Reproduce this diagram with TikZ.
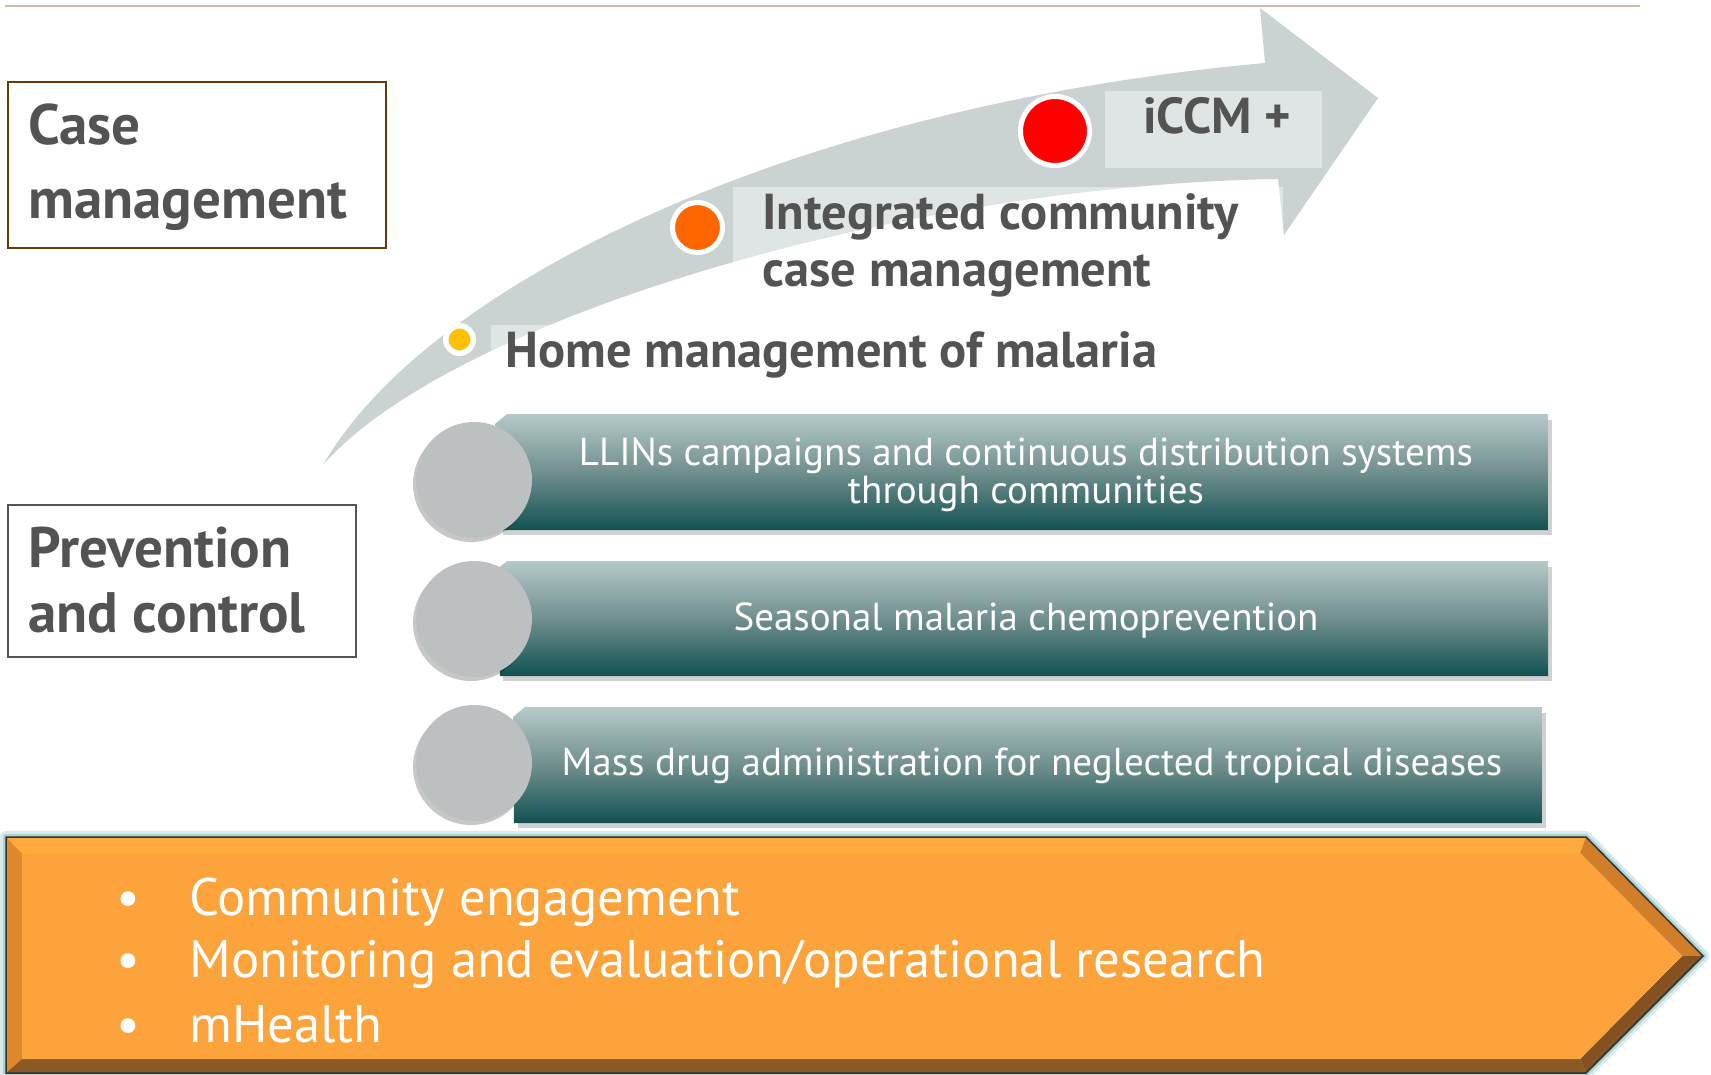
\documentclass[tikz,border=0pt]{standalone}
\usepackage{fontspec}
\setmainfont{PT Sans}

\definecolor{ruleTan}{RGB}{201,189,168}
\definecolor{caseBrown}{RGB}{104,60,10}
\definecolor{prevGrey}{RGB}{85,85,85}
\definecolor{labelGrey}{RGB}{83,83,83}
\definecolor{shaftGrey}{RGB}{203,210,210}
\definecolor{dotYellow}{RGB}{255,192,0}
\definecolor{dotOrange}{RGB}{255,102,0}
\definecolor{dotRed}{RGB}{255,0,0}
\definecolor{barTop}{RGB}{181,202,200}
\definecolor{barMid}{RGB}{112,143,142}
\definecolor{barBottom}{RGB}{17,82,82}
\definecolor{discGrey}{RGB}{188,192,192}
\definecolor{bandFace}{RGB}{253,163,59}
\definecolor{bandTop}{RGB}{254,170,60}
\definecolor{bandLeft}{RGB}{224,137,44}
\definecolor{bandUpper}{RGB}{208,126,42}
\definecolor{bandLower}{RGB}{131,82,32}
\definecolor{bandBottom}{RGB}{139,89,36}
\definecolor{bandGlow}{RGB}{128,186,186}

\tikzset{every picture/.style={line width=0.75pt}}

\begin{document}
\begin{tikzpicture}[x=1pt,y=1pt,yscale=-1,xscale=1,
  heading/.style={font=\fontsize{57}{74}\selectfont\bfseries, text=labelGrey, anchor=base west, align=left, inner sep=0pt},
  stage/.style={font=\fontsize{50.5}{57}\selectfont\bfseries, text=labelGrey, anchor=base west, align=left, inner sep=0pt},
  bartext/.style={font=\fontsize{39}{38}\selectfont, text=white, anchor=base, align=center, inner sep=0pt},
  bandtext/.style={font=\fontsize{52.7}{63}\selectfont, text=white, anchor=base west, inner sep=0pt},
  bandmark/.style={font=\fontsize{52.7}{63}\selectfont, text=white, anchor=base, inner sep=0pt},
  dot/.style={circle, draw=white, inner sep=0pt},
  disc/.style={circle, fill=discGrey, minimum size=116, inner sep=0pt},
  barfill/.style={top color=barTop, bottom color=barBottom, middle color=barMid},
  veil/.style={fill=white, fill opacity=0.4}]
\useasboundingbox (0,0) rectangle (1711,1074);

%Straight Lines
\draw [color=ruleTan, line width=2.5]  (5,6) -- (1640,6) ;

%Shape: Rectangle
\draw [color=caseBrown, line width=1.5]  (8,82) -- (386,82) -- (386,248) -- (8,248) -- cycle ;
%Shape: Rectangle
\draw [color=prevGrey, line width=1.5]  (8,505) -- (356,505) -- (356,657) -- (8,657) -- cycle ;

% Text Node (baseline of the last line)
\draw (28,218) node (caseHead) [heading]  {Case\\management};
% Text Node
\draw (28,632) node (prevHead) [heading, font=\fontsize{57}{65}\selectfont\bfseries]  {Prevention\\and control};

%Shape: Curved Arrow
\fill [shaftGrey]  (323,465) .. controls (430,280) and (800,105) .. (1265,63) -- (1260,8) -- (1378,98) -- (1284,235) -- (1278,179) .. controls (900,185) and (450,320) .. (323,465) -- cycle ;

%Shape: Rectangle
\fill [veil]  (491,325) -- (1160,325) -- (1160,392) -- (491,392) -- cycle ;
%Shape: Rectangle
\fill [veil]  (733,187) -- (1283,187) -- (1283,300) -- (733,300) -- cycle ;
%Shape: Rectangle
\fill [veil]  (1105,91) -- (1322,91) -- (1322,168) -- (1105,168) -- cycle ;

%Shape: Circle
\draw (459.5,339.5) node (dotHome) [dot, fill=dotYellow, minimum size=27.5, line width=5.5] {};
%Shape: Circle
\draw (697.5,227.5) node (dotIccm) [dot, fill=dotOrange, minimum size=50, line width=5] {};
%Shape: Circle
\draw (1055,131) node (dotPlus) [dot, fill=dotRed, minimum size=69, line width=5] {};

% Text Node
\draw (505,367) node (homeLbl) [stage]  {Home management of malaria};
% Text Node
\draw (762,286) node (iccmLbl) [stage]  {Integrated community\\case management};
% Text Node
\draw (1143,133) node (plusLbl) [stage]  {iCCM +};

%Shape: Bars with shadow
\fill [black, opacity=0.18]  (503,420) -- (1552,420) -- (1552,535) -- (503,535) -- cycle ;
\fill [black, opacity=0.18]  (503,567) -- (1552,567) -- (1552,681) -- (503,681) -- cycle ;
\fill [black, opacity=0.18]  (518,713) -- (1546,713) -- (1546,828) -- (518,828) -- cycle ;
\shade [barfill]  (495,424) -- (507,414) -- (1548,414) -- (1548,530) -- (500,530) -- cycle ;
\shade [barfill]  (495,571) -- (507,561) -- (1548,561) -- (1548,676) -- (500,676) -- cycle ;
\shade [barfill]  (513,717) -- (525,707) -- (1542,707) -- (1542,823) -- (514,823) -- cycle ;

%Shape: Circle
\fill [black, opacity=0.22]  (471,484) circle (58) ;
\draw (474,480) node (discNets) [disc] {};
%Shape: Circle
\fill [black, opacity=0.22]  (471,623) circle (58) ;
\draw (474,619) node (discSmc) [disc] {};
%Shape: Circle
\fill [black, opacity=0.22]  (471,767) circle (58) ;
\draw (474,763) node (discMda) [disc] {};

% Text Node
\draw (1026,503) node (netsLbl) [bartext]  {LLINs campaigns and continuous distribution systems\\through communities};
% Text Node
\draw (1026,630) node (smcLbl) [bartext]  {Seasonal malaria chemoprevention};
% Text Node
\draw (1032,775) node (mdaLbl) [bartext]  {Mass drug administration for neglected tropical diseases};

%Shape: Pentagon band
\draw [bandGlow, line width=12, opacity=0.3, line join=round]  (6,837) -- (1586,837) -- (1703,956) -- (1586,1073) -- (6,1073) -- cycle ;
\draw [bandGlow, line width=6, opacity=0.5, line join=round]  (6,837) -- (1586,837) -- (1703,956) -- (1586,1073) -- (6,1073) -- cycle ;
\fill [bandTop]  (6,837) -- (1586,837) -- (1580,853) -- (22,853) -- cycle ;
\fill [bandLeft]  (6,837) -- (22,853) -- (22,1059) -- (6,1073) -- cycle ;
\fill [bandBottom]  (6,1073) -- (22,1059) -- (1580,1059) -- (1586,1073) -- cycle ;
\fill [bandUpper]  (1586,837) -- (1703,956) -- (1682,956) -- (1580,853) -- cycle ;
\fill [bandLower]  (1703,956) -- (1586,1073) -- (1580,1059) -- (1682,956) -- cycle ;
\fill [bandFace]  (22,853) -- (1580,853) -- (1682,956) -- (1580,1059) -- (22,1059) -- cycle ;
\draw [color={rgb, 255:red, 51; green, 51; blue, 51}, line width=1.5, line join=miter]  (6,837) -- (1586,837) -- (1703,956) -- (1586,1073) -- (6,1073) -- cycle ;

% Text Node
\draw (128,915) node (markA) [bandmark]  {\textbullet};
\draw (189,915) node (itemA) [bandtext]  {Community engagement};
% Text Node
\draw (128,977) node (markB) [bandmark]  {\textbullet};
\draw (189,977) node (itemB) [bandtext]  {Monitoring and evaluation/operational research};
% Text Node
\draw (128,1042) node (markC) [bandmark]  {\textbullet};
\draw (189,1042) node (itemC) [bandtext]  {mHealth};

\end{tikzpicture}
\end{document}
